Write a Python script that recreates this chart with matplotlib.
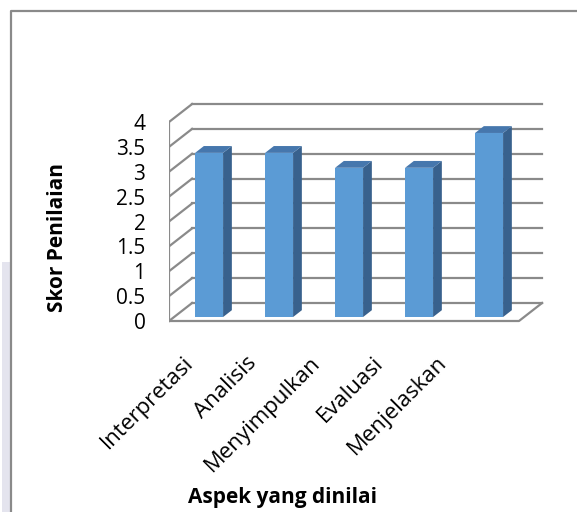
import matplotlib.pyplot as plt
from matplotlib.patches import Polygon, Rectangle
from matplotlib.lines import Line2D

# skor rata-rata tiap aspek
aspek = ['Interpretasi', 'Analisis', 'Menyimpulkan', 'Evaluasi', 'Menjelaskan']
skor = [3.3, 3.3, 3.0, 3.0, 3.7]
y_ticks = [0, 0.5, 1, 1.5, 2, 2.5, 3, 3.5, 4]
y_labels = ['0', '0.5', '1', '1.5', '2', '2.5', '3', '3.5', '4']

plt.rcParams['font.family'] = ['Open Sans', 'DejaVu Sans']

W, H = 577, 512
fig = plt.figure(figsize=(W / 100, H / 100), dpi=100)

# bingkai luar
fig.patches.append(Rectangle((2 / W, 0), 9 / W, 250 / H, transform=fig.transFigure,
                             facecolor='#e4e4ee', edgecolor='none', zorder=0))
fig.lines.append(Line2D([11.5 / W, 11.5 / W, 1.02], [-0.02, 1 - 11 / H, 1 - 11 / H],
                        transform=fig.transFigure, color='#8a8a8a', lw=1.6))

ax = fig.add_axes([169 / W, 1 - 330 / H, (560 - 169) / W, (330 - 95) / H])
ax.set_xlim(-0.5, 5.086)
ax.set_ylim(-0.181, 4.543)
for s in ax.spines.values():
    s.set_visible(False)
ax.set_xticks([])
ax.set_yticks(y_ticks, y_labels, fontsize=15)
ax.tick_params(axis='y', length=0, pad=17)

# efek 3D: geser kedalaman
DX, DY = 0.33, 0.362
grid_c = '#8a8a8a'
n = len(aspek)
x0, x1 = -0.5, n - 0.5

# dinding belakang + dinding kiri
for v in y_ticks:
    ax.plot([x0 + DX, x1 + DX], [v + DY, v + DY], color=grid_c, lw=1.6, zorder=1)
    ax.plot([x0, x0 + DX], [v, v + DY], color=grid_c, lw=1.6, zorder=1)
ax.plot([x0, x0], [0, y_ticks[-1]], color=grid_c, lw=1.6, zorder=1)
# lantai
ax.plot([x0, x1, x1 + DX], [0, 0, DY], color=grid_c, lw=1.6, zorder=1)

# batang
T0, T1 = 0.22, 0.6
hw = 0.2
c_front, c_side, c_top = '#5b9bd5', '#38618d', '#4677ad'
for i, v in enumerate(skor):
    fx0 = i - hw + T0 * DX
    fx1 = i + hw + T0 * DX
    fy = T0 * DY
    ddx = (T1 - T0) * DX
    ddy = (T1 - T0) * DY
    ax.add_patch(Polygon([(fx0, fy), (fx1, fy), (fx1, fy + v), (fx0, fy + v)],
                         closed=True, facecolor=c_front, edgecolor='none', zorder=3))
    ax.add_patch(Polygon([(fx1, fy), (fx1 + ddx, fy + ddy), (fx1 + ddx, fy + ddy + v), (fx1, fy + v)],
                         closed=True, facecolor=c_side, edgecolor='none', zorder=3))
    ax.add_patch(Polygon([(fx0, fy + v), (fx1, fy + v), (fx1 + ddx, fy + ddy + v), (fx0 + ddx, fy + ddy + v)],
                         closed=True, facecolor=c_top, edgecolor='none', zorder=3))

# label kategori miring
for i, name in enumerate(aspek):
    ax.text(i * 0.907 - 0.2, -0.78, name, rotation=45, ha='right', va='center',
            rotation_mode='anchor', fontsize=16, clip_on=False)

fig.text(282 / W, 1 - 498 / H, 'Aspek yang dinilai', ha='center', va='center',
         fontsize=15, fontweight='bold')
fig.text(58 / W, 1 - 238 / H, 'Skor Penilaian', ha='center', va='center',
         rotation=90, fontsize=15, fontweight='bold')

fig.savefig('out.png', dpi=100)
